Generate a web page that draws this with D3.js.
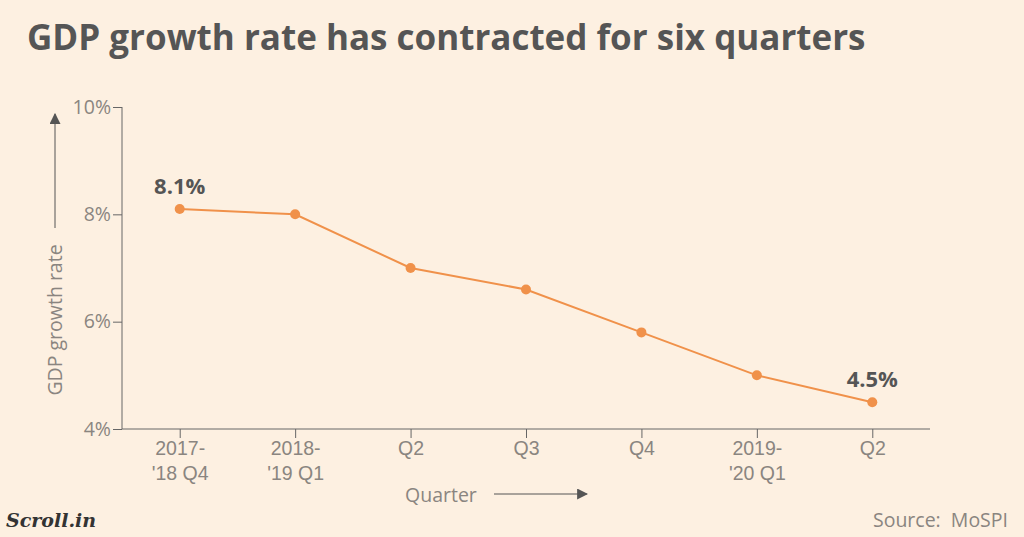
<!DOCTYPE html>
<html><head><meta charset="utf-8">
<script src="https://cdn.jsdelivr.net/npm/d3@7"></script>
<style>
body{margin:0;background:#fdf0e1;}
svg{display:block;font-family:"Open Sans",sans-serif;}
</style></head>
<body><div id="chart"></div>
<script>
const quarters = [["2017-", "'18 Q4"], ["2018-", "'19 Q1"], ["Q2"], ["Q3"], ["Q4"], ["2019-", "'20 Q1"], ["Q2"]];
const growth = [8.1, 8.0, 7.0, 6.6, 5.8, 5.0, 4.5];
const yTicks = [4, 6, 8, 10];
const labelled = [0, 6];

const width = 1024, height = 537;
const svg = d3.select("#chart").append("svg").attr("width", width).attr("height", height);
svg.append("rect").attr("width", width).attr("height", height).attr("fill", "#fdf0e1");

const grey = "#8a8580";
const fs = 19.5;
const x = d3.scalePoint().domain(d3.range(quarters.length)).range([122, 930]).padding(0.5);
const y = d3.scaleLinear().domain([4, 10]).range([429, 107]);

svg.append("text").attr("x", 27).attr("y", 50).attr("font-size", 35).attr("font-weight", 700)
  .attr("fill", "#555").text("GDP growth rate has contracted for six quarters");

// y axis
const ya = svg.append("g").attr("transform", "translate(122,0)")
  .call(d3.axisLeft(y).tickValues(yTicks).tickFormat(d => d + "%").tickSize(9).tickPadding(2));
ya.select(".domain").attr("stroke", "#666").attr("d", "M0,107V429");
ya.selectAll(".tick line").attr("stroke", "#666");
ya.selectAll("text").attr("fill", grey).attr("font-size", fs).attr("font-family", "Open Sans");

// x axis
const xa = svg.append("g").attr("transform", "translate(0,429)")
  .call(d3.axisBottom(x).tickSize(9).tickFormat(""));
xa.select(".domain").attr("stroke", "#666").attr("d", "M122,0H930");
xa.selectAll(".tick line").attr("stroke", "#666");
xa.selectAll(".tick").each(function(d) {
  const t = d3.select(this).append("text").attr("fill", grey).attr("font-size", fs)
    .attr("text-anchor", "middle");
  quarters[d].forEach((s, i) => t.append("tspan").attr("x", 0).attr("y", 26 + i * 25).text(s));
});

// axis titles with arrows
const arrow = svg.append("defs").append("marker").attr("id", "ah").attr("viewBox", "0 0 10 10")
  .attr("refX", 9).attr("refY", 5).attr("markerWidth", 11).attr("markerHeight", 11)
  .attr("markerUnits", "userSpaceOnUse").attr("orient", "auto");
arrow.append("path").attr("d", "M0,0L10,5L0,10Z").attr("fill", "#555");
svg.append("text").attr("transform", "translate(62,320) rotate(-90)").attr("text-anchor", "middle")
  .attr("font-size", fs).attr("fill", grey).text("GDP growth rate");
svg.append("line").attr("x1", 55).attr("x2", 55).attr("y1", 228).attr("y2", 114)
  .attr("stroke", "#555").attr("marker-end", "url(#ah)");
svg.append("text").attr("x", 405).attr("y", 502).attr("font-size", fs).attr("fill", grey).text("Quarter");
svg.append("line").attr("x1", 494).attr("x2", 587).attr("y1", 494).attr("y2", 494)
  .attr("stroke", "#555").attr("marker-end", "url(#ah)");

// line
const orange = "#f0914a";
svg.append("path").datum(growth).attr("fill", "none").attr("stroke", orange).attr("stroke-width", 2)
  .attr("d", d3.line().x((d, i) => x(i)).y(d => y(d)));
svg.selectAll(".dot").data(growth).join("circle").attr("cx", (d, i) => x(i)).attr("cy", d => y(d))
  .attr("r", 5).attr("fill", orange);
svg.selectAll(".lab").data(labelled).join("text").attr("x", i => x(i)).attr("y", i => y(growth[i]) - 15)
  .attr("text-anchor", "middle").attr("font-size", 22).attr("font-weight", 700).attr("fill", "#555")
  .text(i => growth[i].toFixed(1) + "%");

svg.append("text").attr("x", 1008).attr("y", 527).attr("text-anchor", "end").attr("font-size", fs)
  .attr("fill", grey).attr("xml:space", "preserve").text("Source:  MoSPI");
svg.append("text").attr("x", 6).attr("y", 527).attr("font-size", 19).attr("font-style", "italic")
  .attr("font-weight", 700).attr("font-family", "DejaVu Serif").attr("fill", "#333").text("Scroll.in");
</script></body></html>
